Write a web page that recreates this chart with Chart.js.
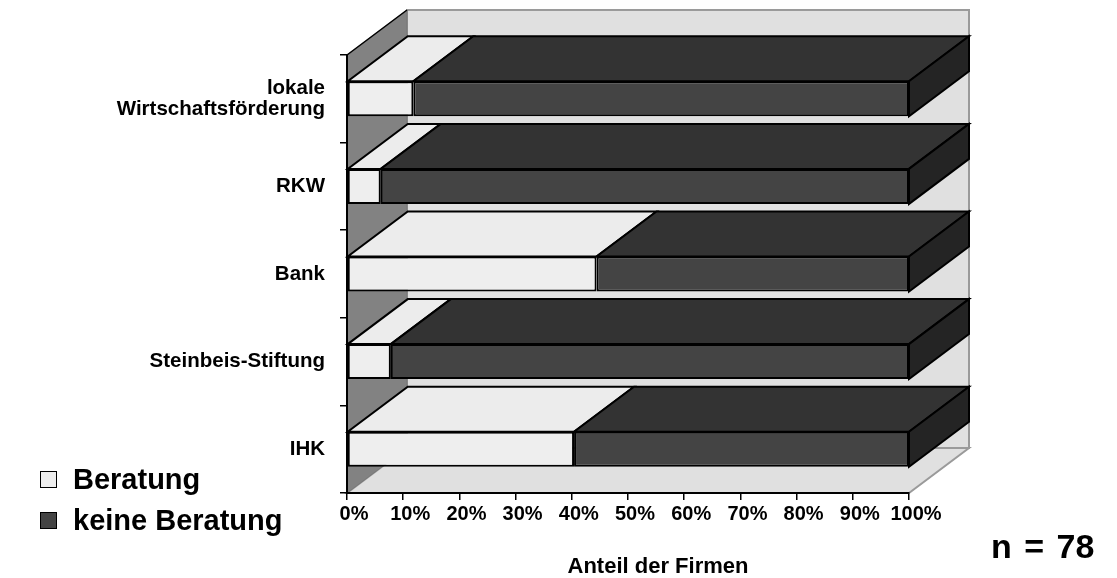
<!DOCTYPE html>
<html>
<head>
<meta charset="utf-8">
<script src="https://cdn.jsdelivr.net/npm/chart.js@4/dist/chart.umd.min.js"></script>
<style>
  body { margin: 0; background: #fff; font-family: "Liberation Sans", Arial, sans-serif; }
  #wrap { position: relative; width: 1117px; height: 578px; }
  .legend { position: absolute; left: 40px; top: 459px; font-weight: bold; font-size: 29px; color: #000; }
  .legend div { display: flex; align-items: center; height: 41px; }
  .legend span.box { display: inline-block; width: 15px; height: 15px; border: 1px solid #000; margin-right: 16px; }
  #xTitle { position: absolute; left: 508px; width: 300px; top: 553px; text-align: center; font-weight: bold; font-size: 22px; }
  #nLabel { position: absolute; left: 991px; top: 527px; font-weight: bold; font-size: 34px; word-spacing: 3px; }
</style>
</head>
<body>
<div id="wrap">
  <canvas id="firmenChart"></canvas>
  <div class="legend">
    <div><span class="box" style="background:#eeeeee"></span>Beratung</div>
    <div><span class="box" style="background:#444444"></span>keine Beratung</div>
  </div>
  <div id="xTitle">Anteil der Firmen</div>
  <div id="nLabel">n = 78</div>
</div>
<script>
const categories = [["lokale", "Wirtschaftsförderung"], "RKW", "Bank", "Steinbeis-Stiftung", "IHK"];
const beratung = [11.8, 6, 44.4, 7.8, 40.4];
const keineBeratung = [88.2, 94, 55.6, 92.2, 59.6];
const seriesNames = ["Beratung", "keine Beratung"];

// colours: front, top, side
const faceColors = [
  { front: "#eeeeee", top: "#ececec", side: "#dddddd" },
  { front: "#444444", top: "#333333", side: "#242424" }
];

const DEPTH_X = 60;
const DEPTH_Y = 45;

function poly(ctx, pts, fill, stroke, width) {
  ctx.beginPath();
  ctx.moveTo(pts[0][0], pts[0][1]);
  for (let i = 1; i < pts.length; i++) ctx.lineTo(pts[i][0], pts[i][1]);
  ctx.closePath();
  ctx.fillStyle = fill;
  ctx.fill();
  if (stroke) {
    ctx.strokeStyle = stroke;
    ctx.lineWidth = width || 1;
    ctx.stroke();
  }
}

const box3d = {
  id: "box3d",
  beforeDraw(chart) {
    const { ctx, chartArea: a } = chart;
    ctx.save();
    ctx.lineJoin = "miter";
    // back wall
    poly(ctx, [
      [a.left + DEPTH_X, a.top - DEPTH_Y],
      [a.right + DEPTH_X, a.top - DEPTH_Y],
      [a.right + DEPTH_X, a.bottom - DEPTH_Y],
      [a.left + DEPTH_X, a.bottom - DEPTH_Y]
    ], "#e0e0e0", "#9a9a9a", 2);
    // floor
    poly(ctx, [
      [a.left, a.bottom],
      [a.right, a.bottom],
      [a.right + DEPTH_X, a.bottom - DEPTH_Y],
      [a.left + DEPTH_X, a.bottom - DEPTH_Y]
    ], "#e0e0e0", "#9a9a9a", 2);
    // left wall
    poly(ctx, [
      [a.left, a.top],
      [a.left + DEPTH_X, a.top - DEPTH_Y],
      [a.left + DEPTH_X, a.bottom - DEPTH_Y],
      [a.left, a.bottom]
    ], "#828282", "#777777", 1);
    ctx.beginPath();
    ctx.moveTo(a.left, a.top);
    ctx.lineTo(a.left + DEPTH_X, a.top - DEPTH_Y);
    ctx.strokeStyle = "#000";
    ctx.lineWidth = 1.5;
    ctx.stroke();
    ctx.restore();
  },
  afterDatasetsDraw(chart) {
    const ctx = chart.ctx;
    ctx.save();
    ctx.lineJoin = "miter";
    const last = chart.data.datasets.length - 1;
    chart.data.datasets.forEach((ds, di) => {
      const meta = chart.getDatasetMeta(di);
      meta.data.forEach((bar) => {
        const p = bar.getProps(["x", "y", "base", "height"], true);
        const top = p.y - p.height / 2;
        const bottom = p.y + p.height / 2;
        const x0 = Math.min(p.base, p.x);
        const x1 = Math.max(p.base, p.x);
        poly(ctx, [
          [x0, top],
          [x1, top],
          [x1 + DEPTH_X, top - DEPTH_Y],
          [x0 + DEPTH_X, top - DEPTH_Y]
        ], faceColors[di].top, "#000", 2);
        if (di === last) {
          poly(ctx, [
            [x1, top],
            [x1 + DEPTH_X, top - DEPTH_Y],
            [x1 + DEPTH_X, bottom - DEPTH_Y],
            [x1, bottom]
          ], faceColors[di].side, "#000", 2);
        }
      });
    });
    ctx.restore();
  }
};

const fontFamily = "'Liberation Sans', Arial, sans-serif";

new Chart(document.getElementById("firmenChart").getContext("2d"), {
  type: "bar",
  data: {
    labels: categories,
    datasets: [
      {
        label: seriesNames[0],
        data: beratung,
        backgroundColor: faceColors[0].front,
        borderColor: "#000",
        borderWidth: 2,
        borderSkipped: false,
        barPercentage: 0.4,
        categoryPercentage: 1
      },
      {
        label: seriesNames[1],
        data: keineBeratung,
        backgroundColor: faceColors[1].front,
        borderColor: "#000",
        borderWidth: 2,
        borderSkipped: false,
        barPercentage: 0.4,
        categoryPercentage: 1
      }
    ]
  },
  options: {
    indexAxis: "y",
    responsive: true,
    maintainAspectRatio: false,
    animation: false,
    layout: { padding: { top: 55, right: 208, bottom: 0, left: 0 } },
    plugins: {
      legend: { display: false },
      tooltip: { enabled: false }
    },
    scales: {
      x: {
        stacked: true,
        min: 0,
        max: 100,
        afterFit: (scale) => { scale.height = 85; },
        border: { display: true, color: "#000", width: 2 },
        grid: { drawOnChartArea: false, drawTicks: true, tickLength: 7, color: "#000", lineWidth: 1.5 },
        ticks: {
          stepSize: 10,
          autoSkip: false,
          color: "#000",
          font: { family: fontFamily, weight: "bold", size: 20 },
          padding: 2,
          labelOffset: 7,
          maxRotation: 0,
          callback: (v) => v + "%"
        }
      },
      y: {
        stacked: true,
        afterFit: (scale) => { scale.width = 347; },
        border: { display: true, color: "#000", width: 2 },
        grid: { drawOnChartArea: false, drawTicks: true, tickLength: 7, color: "#000", lineWidth: 1.5, offset: true },
        ticks: {
          color: "#000",
          font: { family: fontFamily, weight: "bold", size: 20.5, lineHeight: 1.05 },
          padding: 15
        }
      }
    }
  },
  plugins: [box3d]
});
</script>
</body>
</html>
